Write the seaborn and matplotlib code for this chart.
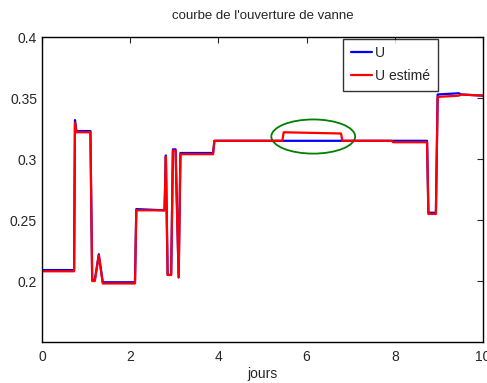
import matplotlib
matplotlib.use('Agg')
import matplotlib.pyplot as plt
from matplotlib.patches import Ellipse
import pandas as pd
import seaborn as sns

# Valve opening (x in days)
u_jours = [0, 0.73, 0.75, 0.78, 1.10, 1.14, 1.20, 1.29, 1.38, 2.11, 2.14, 2.78, 2.81,
           2.85, 2.93, 2.97, 3.03, 3.10, 3.14, 3.88, 3.91, 8.73, 8.76, 8.93, 8.97,
           9.45, 9.5, 10]
u_vals = [0.209, 0.209, 0.332, 0.323, 0.323, 0.201, 0.201, 0.222, 0.199, 0.199, 0.259,
          0.258, 0.303, 0.205, 0.205, 0.308, 0.308, 0.203, 0.305, 0.305, 0.315, 0.315,
          0.256, 0.256, 0.353, 0.354, 0.353, 0.352]

ue_jours = [0, 0.73, 0.75, 0.78, 1.10, 1.14, 1.20, 1.29, 1.38, 2.11, 2.14, 2.78, 2.81,
            2.85, 2.93, 2.97, 3.03, 3.10, 3.14, 3.88, 3.91, 5.45, 5.48, 6.78, 6.81,
            7.93, 7.96, 8.73, 8.76, 8.93, 8.97, 9.45, 9.5, 10]
ue_vals = [0.208, 0.208, 0.330, 0.322, 0.322, 0.200, 0.200, 0.221, 0.198, 0.198, 0.258,
           0.258, 0.302, 0.205, 0.205, 0.307, 0.307, 0.203, 0.304, 0.304, 0.315, 0.315,
           0.322, 0.321, 0.315, 0.315, 0.3138, 0.3138, 0.255, 0.255, 0.351, 0.352,
           0.353, 0.352]

df_u = pd.DataFrame({'jours': u_jours, 'val': u_vals})
df_ue = pd.DataFrame({'jours': ue_jours, 'val': ue_vals})

sns.set_style('white')
plt.rcParams['font.family'] = ['Liberation Sans', 'DejaVu Sans']

fig = plt.figure(figsize=(4.87, 3.83), dpi=100)
ax = fig.add_axes([0.086, 0.107, 0.906, 0.796])

sns.lineplot(data=df_u, x='jours', y='val', color='#0000ff', lw=1.6, sort=False,
             estimator=None, label='U', ax=ax)
sns.lineplot(data=df_ue, x='jours', y='val', color='#ff0000', lw=1.6, sort=False,
             estimator=None, label='U estimé', ax=ax)

ax.add_patch(Ellipse((6.15, 0.3185), 1.9, 0.028, fill=False, edgecolor='#008000', lw=1.3))

ax.set_xlim(0, 10)
ax.set_ylim(0.15, 0.4)
ax.set_xticks([0, 2, 4, 6, 8, 10])
ax.set_yticks([0.2, 0.25, 0.3, 0.35, 0.4])
ax.set_yticklabels(['0.2', '0.25', '0.3', '0.35', '0.4'])
ax.tick_params(direction='in', top=True, right=True, length=4, width=0.8, labelsize=10)
ax.tick_params(axis='x', pad=6)
for s in ax.spines.values():
    s.set_linewidth(1.0)
    s.set_color('black')

ax.set_xlabel('jours', fontsize=10, labelpad=2)
ax.set_ylabel('')
ax.set_title("courbe de l'ouverture de vanne", fontsize=9.5, pad=13)

leg = ax.legend(loc='upper left', bbox_to_anchor=(0.683, 0.995), fontsize=10,
                frameon=True, fancybox=False, edgecolor='black', handlelength=1.5,
                handletextpad=0.25, borderpad=0.55, labelspacing=0.65, borderaxespad=0)
leg.get_frame().set_linewidth(1.0)

fig.savefig('out.png', dpi=100)
